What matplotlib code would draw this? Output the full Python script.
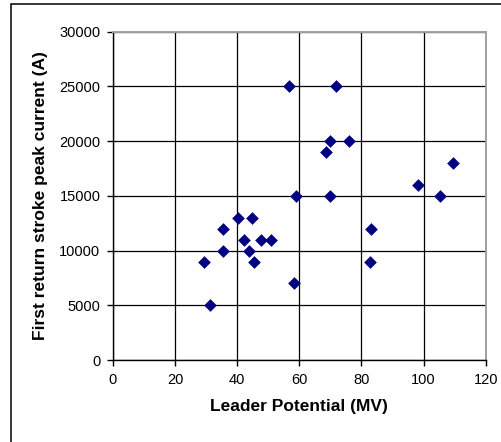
import matplotlib
matplotlib.use('Agg')
import matplotlib.pyplot as plt
from matplotlib.patches import Rectangle

plt.rcParams['font.family'] = ['Liberation Sans', 'DejaVu Sans']

# Leader potential (MV) vs first return stroke peak current (A)
leader_potential = [29.2, 31.3, 35.3, 35.3, 40.1, 42.3, 44.6, 43.8, 45.5, 47.7,
                    50.9, 58.4, 58.9, 69.8, 83.2, 82.7, 98.2, 105.2,
                    56.6, 71.7, 69.8, 76.1, 68.6, 109.4]
peak_current = [9000, 5000, 12000, 10000, 13000, 11000, 13000, 10000, 9000, 11000,
                11000, 7000, 15000, 15000, 12000, 9000, 16000, 15000,
                25000, 25000, 20000, 20000, 19000, 18000]

x_ticks = [0, 20, 40, 60, 80, 100, 120]
y_ticks = [0, 5000, 10000, 15000, 20000, 25000, 30000]

fig = plt.figure(figsize=(5.01, 4.42), dpi=100)
# chart area frame (runs off the right and bottom edges)
fig.patches.append(Rectangle((11 / 501, -0.1), 1.2, (442 - 4) / 442 + 0.1,
                             transform=fig.transFigure, fill=False,
                             edgecolor='black', linewidth=1.1))

ax = fig.add_axes([0.2255, 0.1855, 0.744, 0.7428])
ax.scatter(leader_potential, peak_current, marker='D', s=42, color='#000080',
           linewidths=0, zorder=3)

ax.set_xlim(0, 120)
ax.set_ylim(0, 30000)
ax.set_xticks(x_ticks)
ax.set_yticks(y_ticks)
ax.grid(True, color='black', linewidth=0.9)
ax.set_axisbelow(True)

for side in ['top', 'right']:
    ax.spines[side].set_color('#a0a0a0')
    ax.spines[side].set_linewidth(1.4)
for side in ['left', 'bottom']:
    ax.spines[side].set_color('black')
    ax.spines[side].set_linewidth(1.0)
ax.tick_params(direction='out', length=4, width=1, labelsize=10.5, pad=5)

ax.set_xlabel('Leader Potential (MV)', fontsize=12.5, fontweight='bold', labelpad=9)
ax.set_ylabel('First return stroke peak current (A)', fontsize=12.5,
              fontweight='bold', labelpad=8)

fig.savefig('out.png', dpi=100)
